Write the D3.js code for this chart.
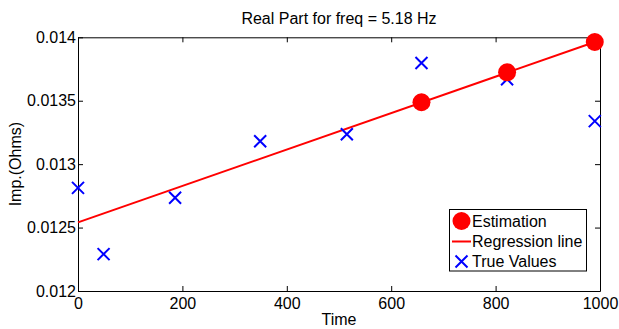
<!DOCTYPE html>
<html>
<head>
<meta charset="utf-8">
<script src="https://cdn.jsdelivr.net/npm/d3@7"></script>
<style>
  html, body { margin: 0; padding: 0; background: #fff; }
  svg { display: block; font-family: "Liberation Sans", Arial, Helvetica, sans-serif; }
</style>
</head>
<body>
<svg id="chart" width="619" height="329"></svg>
<script>
// Measured impedance (true values) over time
const trueTimes = [0, 49, 186, 349, 515, 658, 822, 990];
const trueValues = [0.012813, 0.012291, 0.012735, 0.013181, 0.013236, 0.013798, 0.013669, 0.013339];

// Estimated values at the last three times
const estTimes = [658, 822, 990];
const estValues = [0.013488, 0.013724, 0.013963];

// Regression line end points
const regTimes = [0, 990];
const regValues = [0.012541, 0.013963];

const xTicks = [0, 200, 400, 600, 800, 1000];
const yTicks = [0.012, 0.0125, 0.013, 0.0135, 0.014];
const yTickLabels = ["0.012", "0.0125", "0.013", "0.0135", "0.014"];

const titleText = "Real Part for freq = 5.18 Hz";
const xLabel = "Time";
const yLabel = "Imp.(Ohms)";
const legendLabels = ["Estimation", "Regression line", "True Values"];

const svg = d3.select("#chart");
const plotLeft = 78, plotRight = 600, plotTop = 37.3, plotBottom = 291;
const fontSize = 16;

const x = d3.scaleLinear().domain([0, 1000]).range([plotLeft, plotRight]);
const y = d3.scaleLinear().domain([0.012, 0.014]).range([plotBottom, plotTop]);

// Axes: ticks pointing inward, mirrored on top and right
const tickLen = 5;
const g = svg.append("g");

const xAxisB = d3.axisBottom(x).tickValues(xTicks).tickSizeInner(-tickLen).tickSizeOuter(0)
  .tickPadding(7).tickFormat(d3.format("d"));
const xAxisT = d3.axisTop(x).tickValues(xTicks).tickSizeInner(-tickLen).tickSizeOuter(0).tickFormat("");
const yAxisL = d3.axisLeft(y).tickValues(yTicks).tickSizeInner(-tickLen).tickSizeOuter(0).tickPadding(2)
  .tickFormat((d, i) => yTickLabels[i]);
const yAxisR = d3.axisRight(y).tickValues(yTicks).tickSizeInner(-tickLen).tickSizeOuter(0).tickFormat("");

function style(sel) {
  sel.select(".domain").attr("stroke", "#000").attr("stroke-width", 1);
  sel.selectAll(".tick line").attr("stroke", "#000").attr("stroke-width", 1);
  sel.selectAll(".tick text").attr("fill", "#000").attr("font-size", fontSize)
    .attr("font-family", "Liberation Sans, Arial, sans-serif");
}
g.append("g").attr("transform", `translate(0,${plotBottom})`).call(xAxisB).call(style);
g.append("g").attr("transform", `translate(0,${plotTop})`).call(xAxisT).call(style);
g.append("g").attr("transform", `translate(${plotLeft},0)`).call(yAxisL).call(style);
g.append("g").attr("transform", `translate(${plotRight},0)`).call(yAxisR).call(style);

// Regression line
const line = d3.line().x(d => x(d[0])).y(d => y(d[1]));
svg.append("path")
  .datum(regTimes.map((t, i) => [t, regValues[i]]))
  .attr("d", line)
  .attr("fill", "none")
  .attr("stroke", "#ff0000")
  .attr("stroke-width", 2);

// True values as crosses
const cs = 6;
const crosses = svg.append("g");
trueTimes.forEach((t, i) => {
  const cx = x(t), cy = y(trueValues[i]);
  crosses.append("path")
    .attr("d", `M${cx - cs},${cy - cs}L${cx + cs},${cy + cs}M${cx - cs},${cy + cs}L${cx + cs},${cy - cs}`)
    .attr("stroke", "#0000ff").attr("stroke-width", 2).attr("fill", "none");
});

// Estimations as filled circles
svg.append("g").selectAll("circle")
  .data(estTimes.map((t, i) => [t, estValues[i]]))
  .join("circle")
  .attr("cx", d => x(d[0]))
  .attr("cy", d => y(d[1]))
  .attr("r", 9)
  .attr("fill", "#ff0000");

// Title and axis labels
svg.append("text").attr("x", (plotLeft + plotRight) / 2).attr("y", 23.5)
  .attr("text-anchor", "middle").attr("font-size", fontSize).text(titleText);
svg.append("text").attr("x", (plotLeft + plotRight) / 2).attr("y", 325)
  .attr("text-anchor", "middle").attr("font-size", fontSize).text(xLabel);
svg.append("text")
  .attr("transform", `translate(21,${(plotTop + plotBottom) / 2}) rotate(-90)`)
  .attr("text-anchor", "middle").attr("font-size", fontSize).text(yLabel);

// Legend
const lg = svg.append("g");
lg.append("rect").attr("x", 449.5).attr("y", 209.5).attr("width", 137).attr("height", 61.5)
  .attr("fill", "#fff").attr("stroke", "#000").attr("stroke-width", 1);
const rowY = [221, 241.5, 261.5];
const mx = 461.5;
lg.append("circle").attr("cx", mx).attr("cy", rowY[0]).attr("r", 9).attr("fill", "#ff0000");
lg.append("line").attr("x1", mx - 9.5).attr("x2", mx + 9.5).attr("y1", rowY[1]).attr("y2", rowY[1])
  .attr("stroke", "#ff0000").attr("stroke-width", 2);
lg.append("path")
  .attr("d", `M${mx - cs},${rowY[2] - cs}L${mx + cs},${rowY[2] + cs}M${mx - cs},${rowY[2] + cs}L${mx + cs},${rowY[2] - cs}`)
  .attr("stroke", "#0000ff").attr("stroke-width", 2);
legendLabels.forEach((label, i) => {
  lg.append("text").attr("x", 472).attr("y", rowY[i] + 5.8)
    .attr("font-size", fontSize).text(label);
});
</script>
</body>
</html>
